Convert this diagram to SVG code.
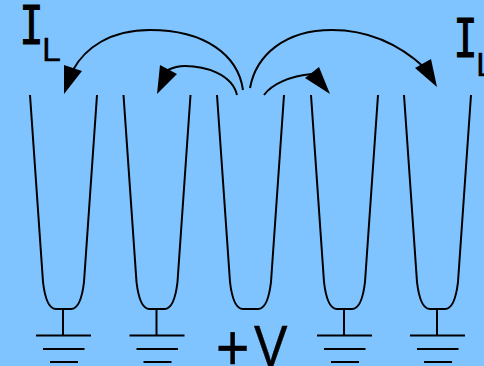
<svg xmlns="http://www.w3.org/2000/svg" width="484" height="366" viewBox="0 0 484 366">
<style>
.l{fill:none;stroke:#000;stroke-width:2;stroke-linecap:butt}
.c{fill:none;stroke:#000;stroke-width:2}
.h{fill:#000;stroke:none}
.t{font-family:"Liberation Sans",Arial,sans-serif;fill:#000}
.m{font-family:"DejaVu Sans Mono",monospace;fill:#000;stroke:#000;stroke-width:1.200}
</style>
<defs>
<path id="u" class="l" d="M30 95L43 282C45 299 49 309 56 309H71C78 309 82 299 84 282L97 95"/>
<g id="g"><path class="l" d="M63 309V336M36 335.500H91M43 349H84.500M50 362H78"/></g>
</defs>
<rect width="484" height="366" fill="#80c4ff"/>
<g id="finger1"><use href="#u"/><use href="#g"/></g>
<g id="finger2"><use href="#u" x="93.500"/><use href="#g" x="93.500"/></g>
<g id="finger3"><use href="#u" x="187"/></g>
<g id="finger4"><use href="#u" x="281"/><use href="#g" x="281"/></g>
<g id="finger5"><use href="#u" x="374"/><use href="#g" x="374"/></g>
<g id="connectors">
<path class="c" d="M243 90C238 55 205 30 150 30C110 30 85 48 73 70"/>
<path class="h" d="M64 94L64 65L82 71Z"/>
<path class="c" d="M237 95C232 74 205 66 185 66C178 66 172 68 168 70"/>
<path class="h" d="M157 94L160 65L177 74Z"/>
<path class="c" d="M250 88C256 55 285 30 332 30C370 30 400 45 425 68"/>
<path class="h" d="M437 87L431 59L415 68Z"/>
<path class="c" d="M264 95C272 84 290 76 312 74"/>
<path class="h" d="M330 94L319 67L305 78Z"/>
</g>
<g id="labels">
<text class="m" transform="translate(19.500 44) scale(.75 1)" font-size="53">I</text>
<text class="t" x="42" y="61" font-size="34" stroke="#000" stroke-width=".3">L</text>
<text class="m" transform="translate(453.500 57) scale(.75 1)" font-size="53">I</text>
<text class="t" x="476" y="76" font-size="34" stroke="#000" stroke-width=".3">L</text>
<text class="t" transform="scale(.88 1)" stroke="#000" stroke-width=".5"><tspan x="245.500" y="370" font-size="65">+</tspan><tspan x="288.600" y="366" font-size="57">V</tspan></text>
</g>
</svg>
